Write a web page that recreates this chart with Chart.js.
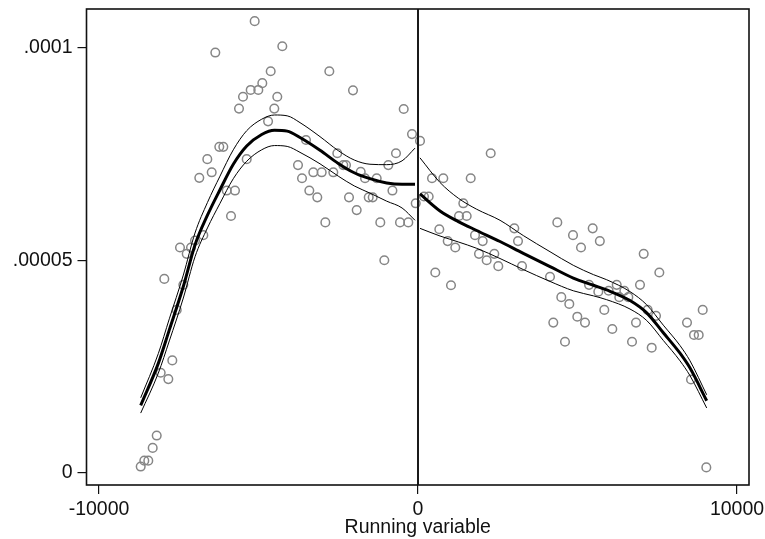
<!DOCTYPE html>
<html>
<head>
<meta charset="utf-8">
<script src="https://cdn.jsdelivr.net/npm/chart.js@4.4.1/dist/chart.umd.min.js"></script>
<style>
  html, body { margin: 0; padding: 0; background: #fff; }
  #wrap { width: 765px; height: 539px; }
</style>
</head>
<body>
<div id="wrap"><canvas id="rdPlot" width="765" height="539"></canvas></div>
<script>
// bin means (y in units of 1e-6)
const binX = [
  -5120, -6354, -4254, -4618, -4881, -5006, -5245, -5486, -5611, -4411,
  -4505, -4700, -6229, -6103, -6605, -5370, -6467, -6856, -5997, -5737,
  -5862, -6730, -6991, -7116, -7461, -7251, -7953, -7357, -7564, -7702,
  -8066, -7827, -8191, -8317, -8455, -8580, -8693, -2780, -2038, -448,
  -188, -690, -3511, -2530, -3762, -2342, -2257, -931, -3282, -3019,
  -2655, -1796, -3636, -1661, -1295, -3407, -3157, -2163, -1545, -1420,
  -802, -1922, -72, -2905, -1182, -564, -304, -1056,
  63, 2279, 439, 793, 1652, 188, 335, 1420, 1285, 1526,
  668, 931, 1169, 542, 1034, 1787, 2028, 3019, 3135, 4367,
  4859, 5476, 5110, 5700, 1912, 2153, 2392, 2517, 3260, 4138,
  4492, 4743, 5361, 5652, 4994, 5235, 4241, 4608, 7075, 7565,
  6959, 6229, 6468, 6593, 6310, 5978, 5840, 7200, 7461, 8925,
  8433, 8652, 8799, 6091, 6834, 6709, 7326, 8558, 9038
];
const binY = [
  106.3, 98.9, 100.4, 94.5, 91.7, 90.1, 90.1, 88.5, 85.7, 88.5,
  85.7, 82.7, 76.7, 76.7, 73.8, 73.8, 70.7, 69.4, 66.4, 66.4,
  60.4, 55.9, 54.6, 53.0, 53.0, 51.5, 45.6, 44.2, 38.3, 26.4,
  23.5, 22.0, 8.7, 5.8, 2.8, 2.8, 1.4, 94.5, 90.0, 85.6,
  79.7, 75.2, 78.3, 75.2, 72.4, 72.4, 72.4, 72.4, 70.7, 70.7,
  70.7, 70.8, 69.3, 69.3, 69.3, 66.4, 64.8, 64.8, 64.8, 64.8,
  66.4, 61.8, 63.4, 58.9, 58.9, 58.9, 58.9, 50.0,
  78.1, 75.2, 69.3, 69.3, 69.3, 65.0, 65.0, 63.4, 60.4, 60.4,
  57.3, 54.5, 53.0, 47.1, 44.1, 55.9, 54.5, 57.5, 54.5, 58.9,
  55.9, 57.5, 53.0, 54.5, 51.5, 50.0, 51.5, 48.6, 48.6, 46.1,
  41.3, 39.7, 44.2, 42.6, 36.7, 35.3, 35.3, 30.8, 51.5, 47.1,
  44.2, 44.2, 42.8, 41.3, 41.3, 42.8, 38.3, 38.3, 36.9, 38.3,
  35.3, 32.4, 32.4, 33.8, 35.3, 30.8, 29.4, 21.9, 1.2
];

// local fit left of the cutoff, with 95% band
const fitLeftX  = [-8693, -8141, -7796, -7357, -6991, -6600, -6207, -5790, -5370, -4900, -4500, -4100, -3699, -3072, -2500, -2000, -1505, -981, -500, -94];
const fitLeftY  = [15.8, 25.7, 33.6, 43.8, 53.6, 60.6, 66.6, 72.6, 76.9, 79.6, 80.6, 80.4, 78.9, 75.9, 72.8, 70.6, 69.2, 68.2, 67.9, 67.9];
const fitLeftHi = [17.6, 28.0, 36.2, 46.5, 56.4, 63.6, 69.8, 76.0, 80.5, 83.2, 84.2, 84.0, 82.4, 79.1, 75.8, 73.6, 72.6, 72.5, 73.4, 76.4];
const fitLeftLo = [14.0, 23.4, 31.0, 41.1, 50.8, 57.6, 63.4, 69.2, 73.3, 76.0, 77.0, 76.8, 75.4, 72.7, 69.8, 67.5, 65.8, 63.9, 62.3, 59.4];

// local fit right of the cutoff, with 95% band
const fitRightX  = [63, 690, 1264, 1840, 2571, 3301, 4138, 4868, 5500, 5915, 6646, 7169, 7690, 8213, 8527, 9050];
const fitRightY  = [65.6, 61.6, 59.1, 57.0, 54.4, 51.6, 48.5, 45.8, 44.1, 43.0, 40.5, 37.6, 32.9, 28.1, 24.6, 16.9];
const fitRightHi = [74.1, 68.3, 64.6, 62.0, 59.4, 55.8, 52.0, 48.8, 46.6, 45.4, 42.6, 39.5, 34.7, 29.9, 26.3, 18.3];
const fitRightLo = [57.5, 55.7, 54.3, 52.8, 50.4, 47.8, 45.0, 42.8, 41.6, 40.7, 38.5, 35.8, 31.1, 26.3, 22.8, 15.2];

const cutoff = 0;
const xTicks = [-10000, 0, 10000];
const xTickLabels = ['-10000', '0', '10000'];
const yTicks = [0, 50, 100];
const yTickLabels = ['0', '.00005', '.0001'];

const xMin = -10392, xMax = 10376;
const yMin = -2.94, yMax = 109.16;

const pts = (xs, ys) => xs.map((x, i) => ({ x: x, y: ys[i] }));

const FONT = '"Liberation Sans", Arial, Helvetica, sans-serif';

const fitLine = (data, width, order) => ({
  type: 'line',
  data: data,
  borderColor: '#000',
  borderWidth: width,
  pointRadius: 0,
  fill: false,
  cubicInterpolationMode: 'monotone',
  order: order
});

// plot region outline
const frame = {
  id: 'frame',
  afterDatasetsDraw(chart) {
    const { ctx, chartArea: a } = chart;
    ctx.save();
    ctx.strokeStyle = '#111';
    ctx.lineWidth = 1.6;
    ctx.strokeRect(a.left, a.top, a.right - a.left, a.bottom - a.top);
    ctx.restore();
  }
};

const ctx = document.getElementById('rdPlot').getContext('2d');

new Chart(ctx, {
  type: 'scatter',
  data: {
    datasets: [
      {
        data: pts(binX, binY),
        pointStyle: 'circle',
        pointRadius: 4.3,
        pointBackgroundColor: 'rgba(0,0,0,0)',
        pointBorderColor: '#868686',
        pointBorderWidth: 1.5,
        order: 5
      },
      fitLine(pts(fitLeftX, fitLeftY), 3, 1),
      fitLine(pts(fitLeftX, fitLeftHi), 1, 2),
      fitLine(pts(fitLeftX, fitLeftLo), 1, 2),
      fitLine(pts(fitRightX, fitRightY), 3, 1),
      fitLine(pts(fitRightX, fitRightHi), 1, 2),
      fitLine(pts(fitRightX, fitRightLo), 1, 2),
      {
        type: 'line',
        data: [{ x: cutoff, y: yMin }, { x: cutoff, y: yMax }],
        borderColor: '#1a1a1a',
        borderWidth: 2,
        pointRadius: 0,
        order: 0
      }
    ]
  },
  options: {
    responsive: false,
    animation: false,
    events: [],
    layout: { autoPadding: false, padding: { top: 9, right: 16, bottom: 0, left: 0 } },
    plugins: {
      legend: { display: false },
      tooltip: { enabled: false }
    },
    scales: {
      x: {
        type: 'linear',
        min: xMin,
        max: xMax,
        afterFit: (scale) => {
          scale.height = 54;
          scale.paddingLeft = 0;
          scale.paddingRight = 0;
        },
        afterBuildTicks: (scale) => { scale.ticks = xTicks.map(v => ({ value: v })); },
        border: { display: false },
        grid: { drawOnChartArea: false, drawTicks: true, tickLength: 9, color: '#111', lineWidth: 1.2 },
        ticks: {
          padding: 4,
          color: '#111',
          font: { family: FONT, size: 19.5 },
          maxRotation: 0,
          callback: (v) => xTickLabels[xTicks.indexOf(v)]
        },
        title: {
          display: true,
          text: 'Running variable',
          color: '#111',
          font: { family: FONT, size: 19.5 },
          padding: { top: 0, bottom: 0 }
        }
      },
      y: {
        type: 'linear',
        min: yMin,
        max: yMax,
        afterFit: (scale) => {
          scale.width = 86.5;
          scale.paddingTop = 0;
          scale.paddingBottom = 0;
        },
        afterBuildTicks: (scale) => { scale.ticks = yTicks.map(v => ({ value: v })); },
        border: { display: false },
        grid: { drawOnChartArea: false, drawTicks: true, tickLength: 9, color: '#111', lineWidth: 1.2 },
        ticks: {
          padding: 5,
          color: '#111',
          font: { family: FONT, size: 19.5 },
          callback: (v) => yTickLabels[yTicks.indexOf(v)]
        }
      }
    }
  },
  plugins: [frame]
});
</script>
</body>
</html>
